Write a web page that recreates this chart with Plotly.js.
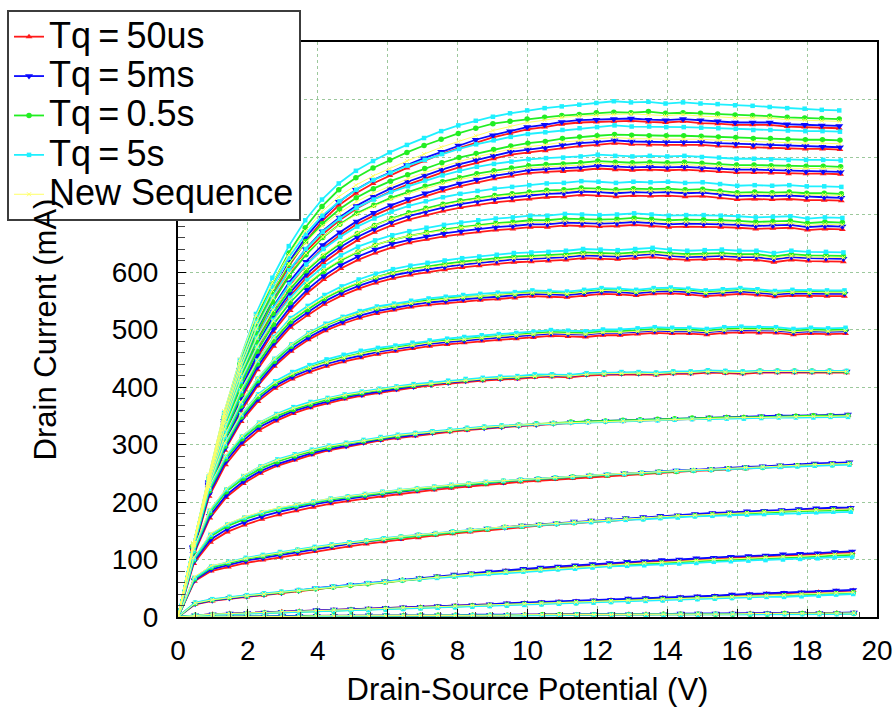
<!DOCTYPE html>
<html>
<head>
<meta charset="utf-8">
<script src="https://cdn.plot.ly/plotly-3.0.1.min.js"></script>
<style>
  html, body { margin: 0; padding: 0; background: #ffffff; }
  #chart { width: 895px; height: 717px; }
</style>
</head>
<body>
<div id="chart"></div>
<script>
// Measured drain-source potential (V) for each gate step, lowest gate step first.
const VDS = [
  [0,0.5,0.99,1.49,1.98,2.48,2.98,3.47,3.97,4.46,4.96,5.46,5.95,6.45,6.94,7.44,7.94,8.43,8.93,9.42,9.92,10.42,10.91,11.41,11.9,12.4,12.9,13.39,13.89,14.38,14.88,15.38,15.87,16.37,16.86,17.36,17.86,18.35,18.85,19.34],
  [0,0.49,0.99,1.48,1.98,2.48,2.97,3.47,3.96,4.46,4.95,5.45,5.94,6.44,6.94,7.43,7.93,8.42,8.92,9.41,9.91,10.4,10.9,11.39,11.89,12.39,12.88,13.38,13.87,14.37,14.86,15.36,15.85,16.35,16.84,17.34,17.84,18.33,18.83,19.32],
  [0,0.49,0.98,1.47,1.97,2.46,2.96,3.45,3.94,4.44,4.93,5.43,5.92,6.42,6.91,7.41,7.9,8.39,8.89,9.38,9.88,10.37,10.87,11.36,11.86,12.35,12.85,13.34,13.84,14.34,14.83,15.33,15.82,16.32,16.81,17.31,17.8,18.3,18.79,19.29],
  [0,0.47,0.95,1.44,1.94,2.43,2.92,3.42,3.91,4.4,4.9,5.39,5.89,6.38,6.88,7.37,7.86,8.36,8.85,9.35,9.84,10.34,10.83,11.33,11.82,12.32,12.81,13.31,13.8,14.3,14.79,15.29,15.78,16.28,16.77,17.27,17.76,18.26,18.75,19.25],
  [0,0.45,0.93,1.41,1.9,2.4,2.89,3.38,3.87,4.37,4.86,5.35,5.85,6.34,6.84,7.33,7.82,8.32,8.81,9.31,9.8,10.3,10.79,11.29,11.78,12.28,12.77,13.27,13.76,14.26,14.75,15.25,15.74,16.24,16.73,17.23,17.72,18.22,18.72,19.21],
  [0,0.44,0.91,1.38,1.87,2.36,2.84,3.34,3.83,4.32,4.81,5.31,5.8,6.29,6.79,7.28,7.78,8.27,8.76,9.26,9.75,10.25,10.74,11.24,11.73,12.23,12.73,13.22,13.72,14.21,14.71,15.2,15.7,16.19,16.69,17.19,17.68,18.18,18.67,19.17],
  [0,0.44,0.89,1.36,1.83,2.32,2.81,3.3,3.79,4.28,4.77,5.26,5.76,6.25,6.74,7.24,7.73,8.23,8.72,9.22,9.71,10.21,10.7,11.2,11.69,12.19,12.69,13.18,13.68,14.17,14.67,15.16,15.66,16.16,16.65,17.15,17.64,18.14,18.64,19.13],
  [0,0.44,0.88,1.34,1.81,2.29,2.78,3.27,3.76,4.25,4.74,5.23,5.72,6.22,6.71,7.2,7.7,8.19,8.69,9.18,9.68,10.17,10.67,11.16,11.66,12.16,12.65,13.15,13.64,14.14,14.63,15.13,15.63,16.12,16.62,17.11,17.61,18.11,18.6,19.1],
  [0,0.44,0.88,1.34,1.8,2.28,2.76,3.24,3.73,4.22,4.71,5.2,5.69,6.18,6.67,7.17,7.66,8.16,8.65,9.15,9.64,10.14,10.63,11.13,11.62,12.12,12.62,13.11,13.61,14.1,14.6,15.1,15.59,16.09,16.58,17.08,17.58,18.07,18.57,19.07],
  [0,0.44,0.88,1.33,1.8,2.27,2.74,3.22,3.71,4.19,4.68,5.17,5.66,6.15,6.65,7.14,7.63,8.13,8.62,9.12,9.61,10.11,10.6,11.1,11.59,12.09,12.58,13.08,13.58,14.07,14.57,15.07,15.56,16.06,16.55,17.05,17.55,18.04,18.54,19.04],
  [0,0.44,0.88,1.33,1.79,2.26,2.73,3.21,3.69,4.17,4.66,5.15,5.64,6.13,6.62,7.11,7.61,8.1,8.59,9.09,9.58,10.08,10.57,11.07,11.56,12.06,12.56,13.05,13.55,14.04,14.54,15.04,15.53,16.03,16.53,17.02,17.52,18.01,18.51,19.01],
  [0,0.44,0.88,1.33,1.78,2.25,2.72,3.19,3.67,4.16,4.64,5.13,5.62,6.11,6.6,7.09,7.58,8.08,8.57,9.06,9.56,10.05,10.55,11.04,11.54,12.03,12.53,13.03,13.52,14.02,14.51,15.01,15.51,16,16.5,17,17.49,17.99,18.49,18.98],
  [0,0.44,0.88,1.32,1.78,2.24,2.71,3.18,3.66,4.14,4.63,5.11,5.6,6.09,6.58,7.07,7.57,8.06,8.55,9.04,9.54,10.03,10.53,11.02,11.52,12.01,12.51,13,13.5,14,14.49,14.99,15.48,15.98,16.48,16.97,17.47,17.97,18.46,18.96],
  [0,0.44,0.88,1.32,1.78,2.24,2.7,3.17,3.65,4.13,4.62,5.1,5.59,6.08,6.57,7.06,7.55,8.04,8.53,9.03,9.52,10.01,10.51,11,11.49,11.99,12.49,12.98,13.48,13.97,14.47,14.97,15.46,15.96,16.46,16.95,17.45,17.95,18.44,18.94],
  [0,0.44,0.88,1.32,1.77,2.23,2.7,3.17,3.64,4.12,4.6,5.09,5.58,6.06,6.55,7.04,7.53,8.02,8.52,9.01,9.5,9.99,10.49,10.98,11.48,11.97,12.47,12.96,13.46,13.95,14.45,14.95,15.44,15.94,16.44,16.93,17.43,17.93,18.42,18.92]
];

// Drain current (mA), Tq = 50us
const ID_TQ_50US = [
  [0,0,1,1,1,1,1,2,2,2,2,2,2,3,3,3,3,3,3,3,4,4,4,4,4,4,5,5,5,5,5,5,6,6,6,6,6,7,7,7],
  [0,3,5,6,7,8,9,10,11,12,13,14,15,16,17,18,19,20,21,23,24,25,26,27,28,29,31,32,33,34,35,36,38,39,40,41,42,43,45,46],
  [0,22,28,32,35,38,41,45,48,52,55,58,61,64,67,70,72,75,77,80,82,84,86,88,90,92,94,95,97,98,100,101,103,104,105,107,108,109,111,112],
  [0,62,80,87,94,99,104,109,114,119,123,127,131,135,138,142,145,148,151,154,156,159,161,163,166,168,170,172,174,175,177,179,180,182,183,184,186,187,188,189],
  [0,93,130,148,160,170,178,185,191,197,202,206,210,214,218,221,224,227,230,232,235,237,239,241,243,245,247,249,250,252,254,255,257,258,260,261,263,264,266,267],
  [0,108,172,208,232,250,263,273,282,290,296,302,307,311,315,319,322,325,328,330,332,334,336,338,339,340,341,342,343,344,345,346,347,347,348,349,349,350,350,351],
  [0,115,210,265,300,325,341,354,364,372,379,385,390,395,399,403,406,409,411,413,414,417,418,417,420,421,422,422,421,423,423,425,424,423,425,425,425,425,425,425],
  [0,117,215,290,340,375,398,414,426,436,444,451,457,462,467,471,474,477,480,482,484,486,489,488,487,490,490,492,494,493,493,491,494,495,494,494,491,493,492,493],
  [0,118,220,300,358,402,436,462,482,498,510,520,528,534,539,543,546,549,551,553,555,558,557,556,559,562,561,559,562,563,561,558,560,562,560,557,559,558,558,558],
  [0,119,223,310,378,430,471,504,525,544,559,571,581,589,595,600,604,608,611,614,617,618,619,621,624,623,622,624,626,623,621,622,623,621,621,617,621,619,619,618],
  [0,120,226,319,392,450,496,533,563,587,606,621,633,643,651,657,662,666,670,673,675,678,678,681,680,679,680,682,680,678,679,679,678,677,675,676,677,673,675,674],
  [0,120,228,325,402,466,516,557,590,616,637,655,669,681,691,699,706,712,717,721,724,727,730,731,734,733,731,733,732,733,731,732,729,726,727,726,727,725,725,724],
  [0,120,229,329,410,478,532,576,612,641,664,683,698,711,722,732,741,749,756,762,767,772,774,775,777,780,778,777,778,777,778,776,775,773,773,772,771,771,771,770],
  [0,120,230,333,418,490,547,595,634,665,690,710,726,740,752,763,773,782,790,797,804,808,811,816,819,821,824,822,821,821,821,821,819,818,816,816,815,814,814,813],
  [0,120,232,337,425,500,558,610,652,688,716,737,754,768,781,793,805,815,825,834,841,848,852,857,860,861,862,863,861,860,862,859,858,856,856,856,853,852,851,850]
];

// Drain current (mA), Tq = 5ms
const ID_TQ_5MS = [
  [0,0,1,1,1,1,2,2,2,2,2,3,3,3,3,3,3,4,4,4,4,4,4,5,5,5,5,5,5,6,6,6,6,6,7,7,7,7,7,8],
  [0,3,5,6,7,8,9,10,12,13,14,15,16,17,18,19,20,21,22,24,25,26,27,28,29,30,32,33,34,35,36,37,39,40,41,42,43,44,46,47],
  [0,23,29,33,36,39,42,46,50,53,56,59,62,65,68,71,74,76,79,81,84,86,88,90,92,94,96,97,99,100,102,103,105,106,107,109,110,111,113,114],
  [0,64,83,91,98,103,108,113,118,123,127,131,135,138,142,145,148,151,154,156,159,161,163,166,168,170,172,174,176,177,179,181,182,184,185,186,188,189,190,190],
  [0,96,135,153,165,175,183,190,196,201,206,210,214,218,221,224,227,230,233,235,238,240,242,244,246,248,250,251,253,255,256,258,259,261,262,264,265,267,268,269],
  [0,110,176,212,236,254,266,276,285,292,298,304,309,313,317,321,324,327,329,331,333,335,337,339,340,341,342,343,344,345,346,347,348,348,349,350,350,351,351,352],
  [0,117,214,270,305,330,345,358,367,375,382,387,392,397,401,405,408,411,413,415,416,419,420,419,422,423,424,424,423,425,425,427,426,425,427,427,427,427,427,427],
  [0,118,217,293,344,379,402,418,430,440,448,455,461,466,471,475,478,481,484,486,488,490,493,492,491,494,494,496,498,497,497,495,498,499,498,498,495,497,496,497],
  [0,119,222,303,362,406,440,466,486,502,514,524,532,538,543,547,550,553,555,557,559,562,561,560,563,566,565,563,566,567,565,562,564,566,564,561,563,562,562,562],
  [0,120,225,313,382,435,476,509,530,549,564,576,586,594,600,605,609,613,616,619,622,623,624,626,629,628,627,629,631,628,626,627,628,626,626,622,626,624,624,623],
  [0,121,228,322,396,455,501,539,569,593,612,627,639,649,656,662,667,671,675,678,680,683,683,686,685,684,685,687,685,683,684,684,683,682,680,681,682,678,680,679],
  [0,121,230,328,406,471,522,563,596,622,643,661,675,687,697,705,712,718,723,727,730,733,736,737,740,739,737,739,738,739,737,738,735,732,733,732,733,731,730,729],
  [0,121,231,332,414,483,538,582,618,647,669,688,703,716,727,737,746,754,761,767,772,777,779,780,782,785,783,782,783,782,783,781,780,778,778,777,776,775,775,774],
  [0,121,233,337,423,496,553,601,640,671,695,715,731,745,757,768,778,787,795,802,809,813,816,821,824,826,829,827,826,826,826,826,824,823,821,821,820,819,818,817],
  [0,121,235,341,430,506,565,617,659,694,722,743,760,773,786,798,809,820,830,838,845,852,856,861,864,865,866,867,865,864,866,864,862,860,860,860,857,856,855,854]
];

// Drain current (mA), Tq = 0.5s
const ID_TQ_05S = [
  [0,0,0,1,1,1,1,1,2,2,2,2,2,2,3,3,3,3,3,3,3,4,4,4,4,4,4,4,5,5,5,5,5,5,5,6,6,6,6,6],
  [0,3,4,5,6,7,8,9,10,11,12,13,14,15,16,17,18,19,20,21,22,23,24,25,26,27,28,29,30,31,32,33,34,35,36,37,38,39,41,42],
  [0,24,30,34,37,40,43,46,49,52,55,58,61,64,66,69,71,74,76,78,80,82,84,86,88,89,91,92,94,95,97,98,99,101,102,103,104,105,107,108],
  [0,66,86,94,101,106,111,116,120,125,129,132,136,139,142,145,148,151,153,156,158,160,162,164,166,168,170,171,173,175,176,178,179,180,182,183,184,185,186,186],
  [0,99,140,158,170,180,187,193,199,204,208,212,216,219,222,225,228,231,233,236,238,240,242,244,246,247,249,250,252,253,255,256,258,259,260,262,263,264,265,266],
  [0,113,181,218,241,258,270,280,288,295,301,306,311,315,319,322,325,328,330,332,334,336,337,339,340,341,342,343,344,345,346,346,347,347,348,349,349,350,350,350],
  [0,120,219,275,310,334,349,361,370,378,384,390,395,399,403,406,409,412,414,416,417,420,421,420,423,424,425,425,424,426,426,428,427,426,428,428,428,428,428,427],
  [0,121,221,297,348,383,406,422,434,444,452,459,465,469,474,478,481,484,487,489,491,493,496,495,494,497,497,499,501,500,500,498,501,502,501,501,498,500,499,500],
  [0,122,227,308,367,411,445,471,491,507,519,529,537,542,547,551,554,557,558,560,562,565,564,563,566,569,568,566,569,570,568,565,567,569,567,564,566,565,565,565],
  [0,123,230,318,387,440,481,514,535,554,569,581,591,599,605,610,614,618,621,624,627,628,629,631,634,633,632,634,636,633,631,632,633,631,631,627,631,629,629,628],
  [0,124,233,328,403,462,509,547,577,601,620,635,647,656,663,669,674,678,682,685,687,690,690,693,692,691,692,694,692,690,691,691,690,689,687,688,689,685,687,686],
  [0,124,235,334,413,478,528,569,602,628,649,667,681,693,703,711,718,724,729,733,736,739,742,743,746,745,743,745,744,745,743,744,741,738,739,738,739,737,737,736],
  [0,124,236,339,422,492,548,593,630,660,683,702,716,729,739,749,757,764,771,776,781,785,787,788,790,793,791,790,791,790,791,789,788,786,786,785,784,784,784,783],
  [0,124,237,343,431,505,564,613,653,684,709,729,745,758,769,780,790,799,806,813,819,824,827,832,835,837,839,838,837,837,837,836,835,834,832,832,831,830,830,829],
  [0,124,240,348,440,518,579,633,677,714,743,764,781,795,808,820,831,841,850,858,862,866,869,872,874,877,878,877,879,876,877,876,875,873,872,871,869,868,867,866]
];

// Drain current (mA), Tq = 5s
const ID_TQ_5S = [
  [0,0,0,1,1,1,1,1,1,2,2,2,2,2,2,2,3,3,3,3,3,3,3,4,4,4,4,4,4,4,4,5,5,5,5,5,5,5,5,6],
  [0,3,4,5,6,7,8,9,10,11,12,12,13,14,15,16,17,18,19,20,21,22,23,24,25,26,27,28,29,30,31,32,33,34,35,35,36,37,39,40],
  [0,25,31,35,38,41,44,47,50,53,56,59,61,64,66,68,71,73,75,77,79,81,83,84,86,88,89,90,92,93,94,96,97,98,99,100,101,102,104,105],
  [0,68,88,96,103,108,113,117,122,126,130,133,137,140,143,146,149,151,154,156,158,160,162,164,165,167,169,170,172,173,175,176,177,178,179,180,181,182,183,183],
  [0,101,143,161,173,182,189,195,201,206,210,214,218,221,224,227,230,232,235,237,239,241,243,244,246,248,249,251,252,254,255,256,257,259,260,261,262,263,264,265],
  [0,115,185,222,245,262,274,283,291,298,303,308,313,317,320,323,326,329,331,333,334,336,337,338,339,340,341,342,342,343,344,344,345,345,346,347,347,347,348,348],
  [0,122,223,279,314,338,353,365,374,381,387,392,397,401,405,408,411,414,416,418,419,422,422,421,424,425,426,426,425,427,427,429,428,427,428,428,428,428,428,428],
  [0,123,225,301,352,387,410,426,438,448,456,463,468,472,477,481,484,487,490,492,494,496,499,498,497,500,500,502,504,503,503,501,504,505,504,504,501,503,502,503],
  [0,124,231,313,372,415,449,474,494,510,522,532,540,545,550,554,557,560,562,564,565,568,567,566,569,572,571,569,572,573,571,568,570,572,570,567,569,568,568,568],
  [0,125,234,324,393,446,487,520,541,560,575,587,597,605,611,616,620,624,627,630,633,634,635,637,640,639,638,640,642,639,637,638,639,637,637,633,637,635,635,634],
  [0,126,237,334,410,470,517,555,586,610,629,644,655,664,671,677,682,686,690,693,695,698,698,701,700,699,700,702,700,698,699,699,698,697,695,696,697,693,695,694],
  [0,126,239,340,420,486,537,579,613,640,661,679,693,705,715,723,730,736,741,745,748,751,754,755,758,757,755,757,756,757,755,756,753,750,751,750,751,749,749,748],
  [0,126,240,345,430,501,557,603,640,670,693,712,726,739,749,759,768,776,783,788,792,796,798,799,801,804,802,801,802,801,802,800,799,797,797,796,795,795,795,794],
  [0,126,241,350,439,514,574,625,666,698,723,743,760,773,785,795,805,814,822,829,835,840,843,847,850,852,855,853,853,852,852,851,850,849,847,847,846,845,845,844],
  [0,126,244,355,447,527,590,645,690,726,754,776,793,808,821,833,845,855,863,870,876,881,885,888,891,894,897,895,896,893,895,893,892,890,889,887,885,884,882,881]
];

// Drain current (mA), new sequence
const ID_NEW_SEQ = [
  [0,0,1,1,1,1,1,1,2,2,2,2,2,3,3,3,3,3,3,3,4,4,4,4,4,4,4,5,5,5,5,5,5,6,6,6,6,6,6,7],
  [0,3,5,6,7,8,9,10,11,12,13,14,15,16,17,18,19,20,21,22,23,24,25,26,27,28,29,30,31,32,33,34,35,36,37,38,40,41,42,43],
  [0,24,30,34,37,40,43,46,49,52,55,58,61,64,67,69,72,74,76,79,81,83,85,87,89,90,92,94,95,97,98,100,101,102,104,105,106,107,109,110],
  [0,70,89,96,102,107,112,117,121,125,129,133,136,140,143,146,149,152,154,157,159,161,163,165,167,169,171,172,174,176,177,179,180,181,183,184,185,186,187,188],
  [0,104,145,162,174,183,190,196,201,206,210,214,218,221,224,227,230,232,235,237,239,241,243,245,247,248,250,251,253,254,256,257,259,260,261,263,264,265,266,267],
  [0,118,187,223,246,262,273,282,290,297,302,307,312,316,319,322,325,328,330,332,334,335,337,338,339,340,341,342,343,344,345,345,346,347,347,348,348,349,349,350],
  [0,125,226,281,315,338,352,363,372,380,386,391,396,400,403,406,409,412,414,416,417,419,420,419,422,423,424,424,423,425,425,427,426,425,427,427,427,427,427,427],
  [0,125,228,303,353,386,408,423,434,443,451,458,463,468,473,477,480,483,486,488,490,492,494,493,492,495,495,497,499,498,498,496,499,500,499,499,496,498,497,498],
  [0,126,234,316,374,416,449,474,493,508,520,529,537,542,546,550,553,556,558,560,561,564,563,562,565,568,567,565,568,569,567,564,566,568,566,563,565,564,564,564],
  [0,127,237,327,395,446,486,518,538,556,571,582,591,598,604,608,612,615,618,621,624,625,626,628,631,630,629,631,633,630,628,629,630,628,628,624,628,626,626,625],
  [0,128,240,337,412,470,515,552,581,604,622,636,647,656,663,668,673,677,680,683,684,686,686,689,688,687,688,690,688,686,687,687,686,685,683,684,685,681,683,682],
  [0,128,242,343,422,485,534,574,606,631,651,668,681,692,701,709,716,722,727,731,734,736,739,740,743,742,740,742,741,742,740,741,738,735,736,735,736,734,734,733],
  [0,128,243,348,432,501,555,598,633,661,682,700,714,726,736,745,754,761,767,772,776,781,783,784,786,789,787,786,787,786,787,785,784,782,782,781,780,780,780,779],
  [0,128,244,352,440,512,568,614,651,680,703,722,737,750,762,773,783,792,800,807,814,818,821,826,829,831,834,832,831,831,831,831,829,828,826,826,825,824,824,823],
  [0,128,248,358,448,524,581,630,671,705,731,751,767,780,793,805,817,827,837,846,853,860,864,869,871,873,874,875,873,872,874,871,870,868,868,868,865,864,863,862]
];

const SERIES_NAMES = ['Tq\u2009=\u200950us', 'Tq\u2009=\u20095ms', 'Tq\u2009=\u20090.5s', 'Tq\u2009=\u20095s', 'New Sequence'];
const X_TICKS = [0, 2, 4, 6, 8, 10, 12, 14, 16, 18, 20];
const X_TICK_TEXT = ['0', '2', '4', '6', '8', '10', '12', '14', '16', '18', '20'];
const Y_TICKS = [0, 100, 200, 300, 400, 500, 600, 700, 800, 900, 1000];
// labels above 600 sit behind the legend box
const Y_TICK_TEXT = ['0', '100', '200', '300', '400', '500', '600', '', '', '', ''];

// Look of each series: colour, marker and line weight.
const SERIES_STYLE = [
  { color: '#ff1a1a', symbol: 'triangle-up',   size: 6,   width: 1.8 },
  { color: '#0a0aff', symbol: 'triangle-down', size: 7,   width: 1.8 },
  { color: '#22ee22', symbol: 'circle',        size: 5.5, width: 1.8 },
  { color: '#1ef0ff', symbol: 'square',        size: 4.5, width: 1.8 },
  { color: '#ffff66', symbol: 'x-thin',        size: 4,   width: 1.0 }
];

const SERIES_DATA = [ID_TQ_50US, ID_TQ_5MS, ID_TQ_05S, ID_TQ_5S, ID_NEW_SEQ];

const traces = [];
SERIES_DATA.forEach(function (curves, s) {
  const st = SERIES_STYLE[s];
  curves.forEach(function (ids, k) {
    traces.push({
      type: 'scatter',
      mode: 'lines+markers',
      x: VDS[k],
      y: ids,
      name: '<span style="font-size:36px">' + SERIES_NAMES[s] + '</span>',
      legendgroup: 'g' + s,
      showlegend: k === 0,
      line: { color: st.color, width: st.width },
      marker: { symbol: st.symbol, size: st.size, color: st.color,
                line: { color: st.color, width: st.symbol === 'x-thin' ? 1 : 0 } },
      hoverinfo: 'x+y'
    });
  });
});

const FONT_FAMILY = 'Liberation Sans, Arial, Helvetica, sans-serif';
const tickFont = { family: FONT_FAMILY, size: 28, color: '#000' };

const layout = {
  width: 895,
  height: 717,
  margin: { l: 178, r: 18, t: 42, b: 100, autoexpand: false },
  paper_bgcolor: '#ffffff',
  plot_bgcolor: '#ffffff',
  font: { family: FONT_FAMILY, color: '#000' },
  showlegend: true,
  legend: {
    x: -0.2446, y: 1.0557, xanchor: 'left', yanchor: 'top',
    bgcolor: '#ffffff', bordercolor: '#3c3c3c', borderwidth: 2,
    font: { family: FONT_FAMILY, size: 28, color: '#000' },
    itemwidth: 30, tracegroupgap: 0, traceorder: 'normal'
  },
  xaxis: {
    automargin: false,
    range: [0, 20],
    tickmode: 'array', tickvals: X_TICKS, ticktext: X_TICK_TEXT,
    ticks: 'inside', ticklen: 8, tickwidth: 1, tickcolor: '#000',
    showline: true, linecolor: '#000', linewidth: 2, mirror: true,
    showgrid: true, gridcolor: '#9cc89c', gridwidth: 1, griddash: 'dot',
    zeroline: false,
    tickfont: tickFont,
    ticklabelstandoff: 7,
    minor: { dtick: 0.5, tick0: 0, ticks: 'inside', ticklen: 5, tickcolor: '#444', showgrid: false },
    title: { text: 'Drain-Source Potential (V)', font: { family: FONT_FAMILY, size: 31, color: '#000' }, standoff: 14 }
  },
  yaxis: {
    automargin: false,
    range: [0, 1000],
    tickmode: 'array', tickvals: Y_TICKS, ticktext: Y_TICK_TEXT,
    ticks: 'inside', ticklen: 8, tickwidth: 1, tickcolor: '#000',
    showline: true, linecolor: '#000', linewidth: 2, mirror: true,
    showgrid: true, gridcolor: '#9cc89c', gridwidth: 1, griddash: 'dot',
    zeroline: false,
    tickfont: tickFont,
    ticklabelstandoff: 12,
    minor: { dtick: 20, tick0: 0, ticks: 'inside', ticklen: 7, tickcolor: '#444', showgrid: false },
    title: { text: 'Drain Current (mA)', font: { family: FONT_FAMILY, size: 31, color: '#000' }, standoff: 46 }
  }
};

Plotly.newPlot('chart', traces, layout, { displayModeBar: false, responsive: false });
</script>
</body>
</html>
